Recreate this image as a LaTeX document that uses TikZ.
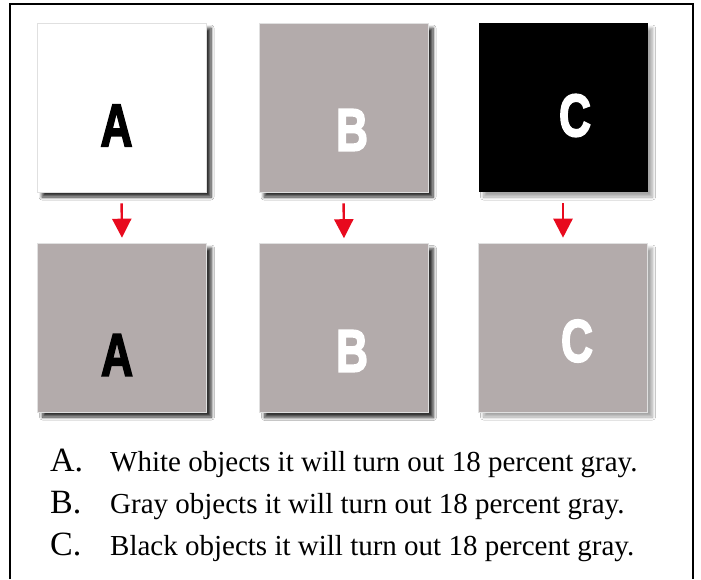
\documentclass[tikz,border=0pt]{standalone}
\usepackage{fontspec}
\setmainfont{Liberation Serif}
\newfontface\letterfont[FakeBold=3]{Liberation Sans Bold}
\usetikzlibrary{arrows.meta,shadows.blur}
\definecolor{boxgray}{RGB}{179,171,171}
\definecolor{arrowred}{RGB}{232,10,30}
\tikzset{
  sq/.style={minimum width=169pt, minimum height=169pt, inner sep=0pt, draw=black!12, line width=0.6pt},
  sqshadow/.style={blur shadow={shadow xshift=5pt, shadow yshift=-5pt, shadow blur radius=3pt, shadow blur steps=8, shadow opacity=#1}},
  big/.style={font=\letterfont\fontsize{60}{60}\selectfont, xscale=0.74, inner sep=0pt},
  redarrow/.style={draw=arrowred, line width=2.4pt, -{Triangle[width=19pt,length=19pt]}, shorten <=11pt, shorten >=5pt},
  label/.style={anchor=base west, inner sep=0pt, font=\fontsize{34}{34}\selectfont},
  caption/.style={anchor=base west, inner sep=0pt, font=\fontsize{29}{29}\selectfont},
  frame/.style={line width=2pt, draw=black}
}
\begin{document}
\begin{tikzpicture}[x=1pt,y=-1pt]
\useasboundingbox (0,0) rectangle (701,579);
\fill[white] (0,0) rectangle (701,579);
\draw[frame] (10,579) -- (10,4) -- (693,4) -- (693,579);
% top row
\node[sq, fill=white, sqshadow=80] (A1) at (121.5,107.5) {};
\node[sq, fill=boxgray, sqshadow=80] (B1) at (343.5,107.5) {};
\node[sq, fill=black, draw=none, sqshadow=35] (C1) at (563,107.5) {};
% bottom row
\node[sq, fill=boxgray, sqshadow=80] (A2) at (122,327.5) {};
\node[sq, fill=boxgray, sqshadow=80] (B2) at (344,328) {};
\node[sq, fill=boxgray, sqshadow=35] (C2) at (563,327.5) {};
% letters
\node[big, text=black] (la1) at (116.5,125.5) {A};
\node[big, text=white] (lb1) at (352,130) {B};
\node[big, text=white] (lc1) at (575,115.5) {C};
\node[big, text=black] (la2) at (117,355) {A};
\node[big, text=white] (lb2) at (352,351) {B};
\node[big, text=white] (lc2) at (577,341) {C};
% arrows
\draw[redarrow] (A1.south) -- (A2.north);
\draw[redarrow] (B1.south) -- (B2.north);
\draw[redarrow] (C1.south) -- (C2.north);
% captions
\node[label] (ka) at (50,471) {A.};
\node[caption] (ta) at (110,471) {White objects it will turn out 18 percent gray.};
\node[label] (kb) at (50,513) {B.};
\node[caption] (tb) at (110,513) {Gray objects it will turn out 18 percent gray.};
\node[label] (kc) at (50,555) {C.};
\node[caption] (tc) at (110,555) {Black objects it will turn out 18 percent gray.};
\end{tikzpicture}
\end{document}
